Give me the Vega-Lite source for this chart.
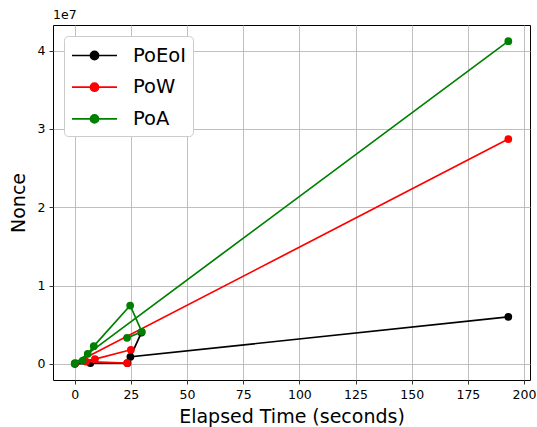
{
  "$schema": "https://vega.github.io/schema/vega-lite/v6.json",
  "width": 477,
  "height": 355,
  "autosize": "none",
  "padding": {"left": 53, "top": 25, "right": 7, "bottom": 47},
  "background": "white",
  "title": {"text": "1e7", "anchor": "start", "frame": "group", "fontSize": 12.5, "fontWeight": "normal", "font": "DejaVu Sans", "color": "black", "offset": 4},
  "config": {
    "view": {"stroke": "black", "strokeWidth": 1},
    "axis": {
      "domain": false,
      "grid": true,
      "gridColor": "#b0b0b0",
      "gridWidth": 0.8,
      "tickColor": "black",
      "tickSize": 4,
      "tickWidth": 0.8,
      "labelFont": "DejaVu Sans",
      "labelFontSize": 12.5,
      "labelColor": "black",
      "labelPadding": 4,
      "titleFont": "DejaVu Sans",
      "titleFontSize": 19,
      "titleFontWeight": "normal",
      "titleColor": "black"
    },
    "legend": {
      "orient": "none",
      "legendX": 11,
      "legendY": 11,
      "title": null,
      "labelFont": "DejaVu Sans",
      "labelFontSize": 19.5,
      "labelColor": "black",
      "fillColor": "white",
      "strokeColor": "#cccccc",
      "cornerRadius": 4,
      "padding": 7,
      "symbolType": "M-2,0L2,0M0.36,0A0.36,0.36,0,1,1,-0.36,0A0.36,0.36,0,1,1,0.36,0Z",
      "symbolSize": 506,
      "symbolStrokeWidth": 1.7,
      "symbolOffset": 11,
      "labelOffset": 26,
      "rowPadding": 9.7
    }
  },
  "data": {
    "values": [
      {"s": "PoEoI", "i": 1, "t": 0.1, "n": 0},
      {"s": "PoEoI", "i": 2, "t": 7, "n": 100000},
      {"s": "PoEoI", "i": 3, "t": 23.5, "n": 100000},
      {"s": "PoEoI", "i": 4, "t": 29.7, "n": 4000000},
      {"s": "PoEoI", "i": 5, "t": 24.8, "n": 900000},
      {"s": "PoEoI", "i": 6, "t": 193, "n": 6000000},
      {"s": "PoW", "i": 1, "t": 193, "n": 28700000},
      {"s": "PoW", "i": 2, "t": 0.3, "n": 100000},
      {"s": "PoW", "i": 3, "t": 9, "n": 600000},
      {"s": "PoW", "i": 4, "t": 25, "n": 1800000},
      {"s": "PoW", "i": 5, "t": 5, "n": 300000},
      {"s": "PoW", "i": 6, "t": 23.3, "n": 100000},
      {"s": "PoA", "i": 1, "t": 193, "n": 41200000},
      {"s": "PoA", "i": 2, "t": 5.8, "n": 1280000},
      {"s": "PoA", "i": 3, "t": 0, "n": 50000},
      {"s": "PoA", "i": 4, "t": 3.6, "n": 420000},
      {"s": "PoA", "i": 5, "t": 8.5, "n": 2260000},
      {"s": "PoA", "i": 6, "t": 24.7, "n": 7450000},
      {"s": "PoA", "i": 7, "t": 29.9, "n": 4090000},
      {"s": "PoA", "i": 8, "t": 23.3, "n": 3320000}
    ]
  },
  "encoding": {
    "x": {
      "field": "t", "type": "quantitative",
      "scale": {"domain": [-9.65, 202.65], "nice": false, "zero": false},
      "axis": {"title": "Elapsed Time (seconds)", "values": [0, 25, 50, 75, 100, 125, 150, 175, 200], "titlePadding": 7}
    },
    "y": {
      "field": "n", "type": "quantitative",
      "scale": {"domain": [-2060000, 43260000], "nice": false, "zero": false},
      "axis": {"title": "Nonce", "values": [0, 10000000, 20000000, 30000000, 40000000], "labelExpr": "format(datum.value/1e7, 'd')", "titlePadding": 9}
    },
    "color": {
      "field": "s", "type": "nominal",
      "scale": {"domain": ["PoEoI", "PoW", "PoA"], "range": ["#000000", "#ff0000", "#008000"]},
      "legend": {
        "encode": {
          "symbols": {"update": {"fill": {"scale": "color", "field": "value"}, "stroke": {"scale": "color", "field": "value"}, "opacity": {"value": 1}}}
        }
      }
    },
    "order": {"field": "i", "type": "quantitative"}
  },
  "layer": [
    {"transform": [{"filter": "datum.s === 'PoEoI'"}], "mark": {"type": "line", "strokeWidth": 1.7, "point": {"filled": true, "size": 60, "opacity": 1}}},
    {"transform": [{"filter": "datum.s === 'PoW'"}], "mark": {"type": "line", "strokeWidth": 1.7, "point": {"filled": true, "size": 60, "opacity": 1}}},
    {"transform": [{"filter": "datum.s === 'PoA'"}], "mark": {"type": "line", "strokeWidth": 1.7, "point": {"filled": true, "size": 60, "opacity": 1}}}
  ]
}
